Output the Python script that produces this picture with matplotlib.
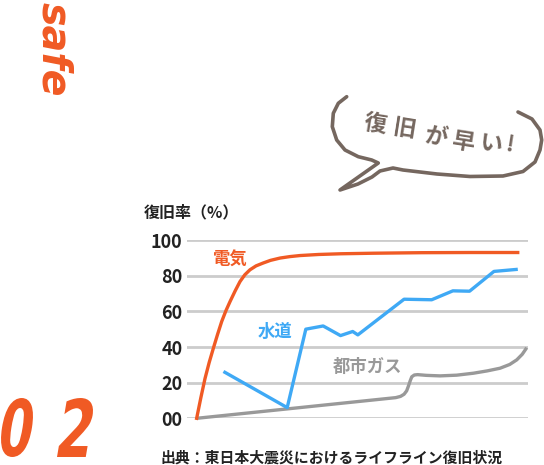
import numpy as np
import matplotlib.pyplot as plt
from matplotlib.lines import Line2D
from matplotlib.textpath import TextPath
from matplotlib.patches import PathPatch
from matplotlib.font_manager import FontProperties
from matplotlib.transforms import Affine2D

plt.rcParams['font.family'] = ['Noto Sans CJK JP', 'DejaVu Sans']

# 復旧率（%）, x = 経過日数 (relative scale 0-100)
denki_x = [0, 1.3, 2.6, 3.9, 5.2, 6.5, 7.8, 9.1, 10.4, 12.0, 13.5, 15.0, 16.6, 18.5, 20.7,
           23.0, 26.0, 29.0, 32.2, 38, 45, 55, 70, 85, 100]
denki_y = [0, 11.5, 22.3, 31.3, 39.3, 47.0, 54.3, 60.3, 65.5, 71.5, 76.7, 80.5, 83.3, 85.5, 87.1,
           88.6, 89.9, 90.7, 91.3, 91.9, 92.3, 92.6, 92.9, 93.0, 93.0]

suido_x = [8.8, 28.2, 34.0, 39.4, 44.8, 48.6, 50.2, 64.6, 73.2, 79.8, 85.0, 92.6, 99.5]
suido_y = [25.8, 6.0, 50.0, 51.8, 46.4, 48.7, 46.8, 66.8, 66.5, 71.5, 71.3, 82.4, 83.5]

gas_x = [0, 62.0, 63.5, 64.6, 65.4, 65.9, 66.5, 67.0, 67.8, 68.8, 71.5, 75.8, 81.0, 86.2,
         90.5, 94.5, 97.5, 99.7, 101.4, 102.8]
gas_y = [0, 11.6, 12.3, 13.5, 15.4, 17.8, 21.0, 23.3, 24.3, 24.5, 24.1, 23.8, 24.2, 25.3,
         26.6, 28.1, 30.2, 32.8, 35.9, 39.6]

yticks = [0, 20, 40, 60, 80, 100]
ytick_labels = ['00', '20', '40', '60', '80', '100']

orange = '#f05a24'
blue = '#3fa9f5'
gray = '#999999'
brown = '#75675f'
ink = '#222222'

fig = plt.figure(figsize=(5.44, 4.65), dpi=100)

ax = fig.add_axes([0.3432, 0.1004, 0.6274, 0.3834])
ax.set_xlim(-3.1, 103.2)
ax.set_ylim(0, 100)
for s in ax.spines.values():
    s.set_visible(False)
ax.set_xticks([])
ax.set_yticks(yticks)
ax.set_yticklabels(ytick_labels, fontsize=13, fontweight='bold', color=ink)
ax.tick_params(axis='y', length=0, pad=3)
ax.grid(axis='y', color='#cccccc', linewidth=2)
ax.set_axisbelow(True)

ax.plot(gas_x, gas_y, color=gray, lw=2.4, clip_on=False, solid_capstyle='butt')
ax.plot(suido_x, suido_y, color=blue, lw=2.4, clip_on=False)
ax.plot(denki_x, denki_y, color=orange, lw=2.4, clip_on=False)

# overlay in pixel coordinates for decorations
ov = fig.add_axes([0, 0, 1, 1], facecolor='none')
ov.set_xlim(0, 544)
ov.set_ylim(465, 0)
ov.axis('off')

ov.text(230, 260, '電気', color=orange, fontsize=12.5, fontweight='bold', ha='center', va='center')
ov.text(275, 332, '水道', color=blue, fontsize=12.5, fontweight='bold', ha='center', va='center')
ov.text(368, 367, '都市ガス', color=gray, fontsize=12.5, fontweight='bold', ha='center', va='center')

ov.text(144, 212, '復旧率（%）', fontsize=11.5, fontweight='bold', color=ink,
        ha='left', va='center')
ov.text(332, 458, '出典：東日本大震災におけるライフライン復旧状況', fontsize=10.7,
        fontweight='bold', color=ink, ha='center', va='center')

ov.text(53, 49, 'safe', color=orange, fontsize=28.5, fontweight='heavy', rotation=-90,
        ha='center', va='center', fontstyle='italic', family='DejaVu Sans')


def glyph_box(s, x0, x1, y0, y1, skew=14):
    prop = FontProperties(family='DejaVu Sans', weight='bold')
    tp = TextPath((0, 0), s, size=100, prop=prop)
    tp = Affine2D().skew_deg(skew, 0).transform_path(tp)
    bb = tp.get_extents()
    tr = (Affine2D().translate(-bb.x0, -bb.y0)
          .scale((x1 - x0) / bb.width, -(y1 - y0) / bb.height)
          .translate(x0, y1))
    ov.add_patch(PathPatch(tr.transform_path(tp), facecolor=orange, lw=0))


glyph_box('0', 1, 33, 398, 457)
glyph_box('2', 57, 93, 398, 457)

# speech bubble (hand-drawn outline)
bx = [346.7, 338.3, 333.3, 332.3, 336.7, 345, 358.3, 371.7, 378.3, 340, 358, 372, 380, 393,
      403, 437, 470, 503, 523, 535, 540, 541.7, 540, 532, 518]
by = [96.7, 103.3, 113.3, 126.7, 140, 150, 156.7, 160, 163, 190, 184, 177, 171, 168,
      170, 174, 176.5, 176, 171.5, 162, 150, 140, 130, 119, 112]
ov.add_line(Line2D(bx, by, color=brown, lw=2.6, solid_capstyle='round',
                   solid_joinstyle='round'))

bubble_chars = ['復', '旧', 'が', '早', 'い', '!']
bubble_cx = [375, 405, 436, 463, 491, 510]
bubble_cy = [124, 129, 137, 142, 144, 145]
for ch, cx, cy in zip(bubble_chars, bubble_cx, bubble_cy):
    ov.text(cx, cy, ch, color=brown, fontsize=16.5, fontweight='bold', rotation=-9,
            ha='center', va='center', rotation_mode='anchor')

fig.savefig('out.png', dpi=100)
